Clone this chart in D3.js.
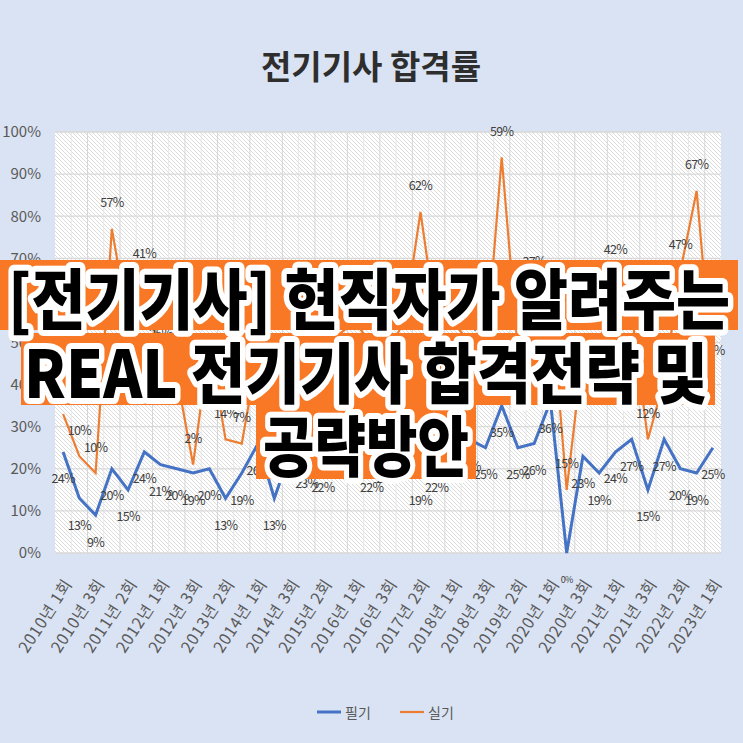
<!DOCTYPE html>
<html><head><meta charset="utf-8">
<script src="https://cdn.jsdelivr.net/npm/d3@7"></script>
<style>
html,body{margin:0;padding:0;background:#DAE3F3;}
svg{display:block;}
</style></head>
<body>
<svg id="c" width="743" height="743"></svg>
<script>
// ---------- data ----------
const categories = [
 "2010년 1회","2010년 2회","2010년 3회","2011년 1회","2011년 2회","2011년 3회",
 "2012년 1회","2012년 2회","2012년 3회","2013년 1회","2013년 2회","2013년 3회",
 "2014년 1회","2014년 2회","2014년 3회","2015년 1회","2015년 2회","2015년 3회",
 "2016년 1회","2016년 2회","2016년 3회","2017년 1회","2017년 2회","2017년 3회",
 "2018년 1회","2018년 2회","2018년 3회","2019년 1회","2019년 2회","2019년 3회",
 "2020년 1회","2020년 2회","2020년 3회","2020년 4회",
 "2021년 1회","2021년 2회","2021년 3회",
 "2022년 1회","2022년 2회","2022년 3회","2023년 1회"];
// 필기 pass rate (%)
const written = [24,13,9,20,15,24,21,20,19,20,13,19,26,13,24,23,22,27,26,22,24,27,19,22,27,27,25,35,25,26,36,0,23,19,24,27,15,27,20,19,25];
// 실기 pass rate (%) — drawn stacked on top of 필기
const practical = [9,10,10,57,40,41,25,22,2,30,14,7,22,30,28,27,30,25,29,27,24,28,62,32,28,23,21,59,23,37,26,15,25,30,42,30,12,14,47,67,17];
const yTicks = [0,10,20,30,40,50,60,70,80,90,100];
const seriesNames = ["필기","실기"];
const seriesColors = ["#4472C4","#ED7D31"];
const chartTitle = "전기기사 합격률";
const bannerLines = ["[전기기사] 현직자가 알려주는","REAL 전기기사 합격전략 및","공략방안"];

// ---------- layout ----------
const svg = d3.select("#c");
const W = 743, H = 743;
const plot = {l:55, r:721, t:132, b:553};

svg.append("rect").attr("width",W).attr("height",H).attr("fill","#DAE3F3");

const defs = svg.append("defs");
const pat = defs.append("pattern").attr("id","hatch").attr("patternUnits","userSpaceOnUse")
  .attr("width",4).attr("height",4);
pat.append("rect").attr("width",4).attr("height",4).attr("fill","#ffffff");
pat.append("path").attr("d","M-1,3 L1,5 M0,0 L4,4 M3,-1 L5,1").attr("stroke","#dcdcdc").attr("stroke-width",1);

const x = d3.scaleBand().domain(categories).range([plot.l, plot.r]).padding(0);
const y = d3.scaleLinear().domain([0,100]).range([plot.b, plot.t]);
const cx = d => x(d) + x.bandwidth()/2;

svg.append("rect").attr("x",plot.l).attr("y",plot.t).attr("width",plot.r-plot.l).attr("height",plot.b-plot.t)
  .attr("fill","url(#hatch)");

// vertical gridlines (category boundaries)
const g = svg.append("g");
categories.forEach((c,i)=>{
  if(i===0) return;
  g.append("line").attr("x1",x(c)).attr("x2",x(c)).attr("y1",plot.t).attr("y2",plot.b)
   .attr("stroke", i%2===0 ? "#d6d6d6" : "#e8e8e8").attr("stroke-width",1);
});
// horizontal gridlines
yTicks.forEach(t=>{
  g.append("line").attr("x1",plot.l).attr("x2",plot.r).attr("y1",y(t)).attr("y2",y(t))
   .attr("stroke","#d9d9d9").attr("stroke-width",1.3);
});

// y axis labels
const yAxis = d3.axisLeft(y).tickValues(yTicks).tickFormat(d=>d+"%").tickSize(0).tickPadding(14);
const ya = svg.append("g").attr("transform",`translate(${plot.l},0)`).call(yAxis);
ya.select(".domain").remove();
ya.selectAll("text").attr("font-family","'Malgun Gothic','Noto Sans CJK KR','Noto Sans',sans-serif")
  .attr("font-size",15).attr("fill","#595959");

// x axis labels (every other category)
const xa = svg.append("g");
categories.forEach((c,i)=>{
  if(i%2!==0) return;
  xa.append("text").attr("transform",`translate(${cx(c)+4},${plot.b+27}) rotate(-57)`)
    .attr("text-anchor","end").attr("dominant-baseline","central")
    .attr("font-family","'Noto Sans CJK KR',sans-serif").attr("font-size",16).attr("letter-spacing",0.8)
    .attr("fill","#595959")
    .text(c);
});

// series
const stacked = written.map((w,i)=>w+practical[i]);
const line = d3.line().x((d,i)=>cx(categories[i])).y(d=>y(d));
svg.append("path").datum(stacked).attr("d",line).attr("fill","none")
  .attr("stroke",seriesColors[1]).attr("stroke-width",2.2).attr("stroke-linejoin","miter");
svg.append("path").datum(written).attr("d",line).attr("fill","none")
  .attr("stroke",seriesColors[0]).attr("stroke-width",3).attr("stroke-linejoin","miter");

// data labels
const lblFont = "'Noto Sans CJK KR','Noto Sans',sans-serif";
written.forEach((v,i)=>{
  svg.append("text").attr("x",cx(categories[i])).attr("y",y(v)+26)
    .attr("text-anchor","middle").attr("dominant-baseline","central")
    .attr("font-family",lblFont).attr("font-size",v===0?9:12.5).attr("letter-spacing",-0.7).attr("fill","#404040")
    .text(v+"%");
});
practical.forEach((v,i)=>{
  svg.append("text").attr("x",cx(categories[i])).attr("y",y(stacked[i])-27)
    .attr("text-anchor","middle").attr("dominant-baseline","central")
    .attr("font-family",lblFont).attr("font-size",12.5).attr("letter-spacing",-0.7).attr("fill","#404040")
    .text(v+"%");
});

// title
svg.append("text").attr("x",371).attr("y",65).attr("text-anchor","middle").attr("dominant-baseline","central")
  .attr("font-family","'Noto Sans CJK KR',sans-serif").attr("font-weight",700).attr("font-size",33)
  .attr("fill","#2e2e2e").text(chartTitle);

// legend
const lg = svg.append("g");
[[317,345],[400,428]].forEach((p,i)=>{
  lg.append("line").attr("x1",p[0]).attr("x2",p[0]+24).attr("y1",712).attr("y2",712)
    .attr("stroke",seriesColors[i]).attr("stroke-width",i===0?3:2.2);
  lg.append("text").attr("x",p[1]).attr("y",712).attr("dominant-baseline","central")
    .attr("font-family","'Noto Sans CJK KR',sans-serif").attr("font-size",14).attr("fill","#595959")
    .text(seriesNames[i]);
});

// banner overlay
const banner = [
  {rx:0, rw:738, ry:260, rh:70, cx:369, cy:295, tl:722, fs:66},
  {rx:21, rw:694, ry:333, rh:72, cx:366, cy:369, tl:684, fs:66},
  {rx:256, rw:220, ry:405, rh:74, cx:366, cy:442, tl:206, fs:66}
];
const bg = svg.append("g");
banner.forEach(b=>{
  bg.append("rect").attr("x",b.rx).attr("y",b.ry).attr("width",b.rw).attr("height",b.rh).attr("fill","#F87825");
});
banner.forEach((b,i)=>{
  bg.append("text").attr("x",b.cx).attr("y",b.cy).attr("text-anchor","middle").attr("dominant-baseline","central")
    .attr("font-family","'Noto Sans CJK KR',sans-serif").attr("font-weight",900).attr("font-size",b.fs)
    .attr("textLength",b.tl).attr("lengthAdjust","spacingAndGlyphs")
    .attr("fill","#000").attr("stroke","#fff").attr("stroke-width",12).attr("stroke-linejoin","round")
    .attr("paint-order","stroke")
    .text(bannerLines[i]);
});
</script>
</body></html>
